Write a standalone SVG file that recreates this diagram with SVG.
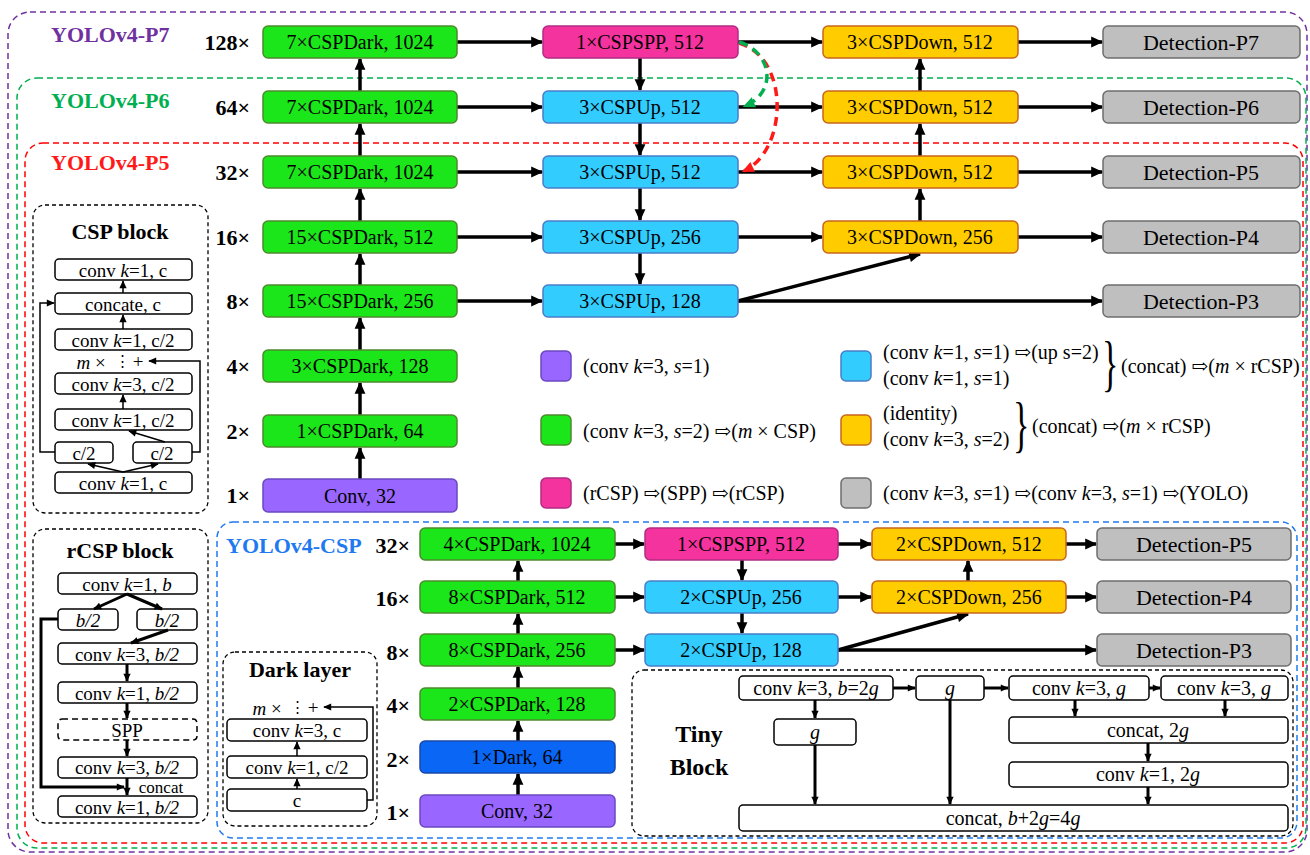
<svg xmlns="http://www.w3.org/2000/svg" width="1310" height="855" viewBox="0 0 1310 855" font-family="'Liberation Serif', 'Times New Roman', 'DejaVu Serif', serif">
<defs>
<marker id="ah" viewBox="0 0 10 10" refX="9" refY="5" markerWidth="13" markerHeight="12" markerUnits="userSpaceOnUse" orient="auto"><path d="M0,0.5L10,5L0,9.5z" fill="#000"/></marker>
<marker id="as" viewBox="0 0 10 10" refX="9" refY="5" markerWidth="9" markerHeight="8" markerUnits="userSpaceOnUse" orient="auto"><path d="M0,0.5L10,5L0,9.5z" fill="#000"/></marker>
<marker id="ag" viewBox="0 0 10 10" refX="8" refY="5" markerWidth="13" markerHeight="12" markerUnits="userSpaceOnUse" orient="auto"><path d="M0,0.5L10,5L0,9.5z" fill="#00B050"/></marker>
<marker id="ar" viewBox="0 0 10 10" refX="8" refY="5" markerWidth="13" markerHeight="12" markerUnits="userSpaceOnUse" orient="auto"><path d="M0,0.5L10,5L0,9.5z" fill="#FF1A1A"/></marker>
</defs>
<style>
text{font-family:'Liberation Serif','Times New Roman','DejaVu Serif',serif;fill:#000}
.c{text-anchor:middle;dominant-baseline:central}
.r{text-anchor:end;dominant-baseline:central}
.l{dominant-baseline:central}
.i{font-style:italic}
.bx{font-size:20px}
.det{font-size:22px}
.sc{font-size:22px;font-weight:bold}
.ttl{font-size:22px;font-weight:bold}
.tb{font-size:24px;font-weight:bold}
.sm{font-size:19px}
.dots{font-size:15px}
.lg{font-size:20px}
.br{font-size:62px}
.node rect{stroke-width:1.5}
.gr rect{fill:#1AE61A;stroke:#4E8A2E}
.pu rect{fill:#9966FF;stroke:#6A48C0}
.pk rect{fill:#F5339F;stroke:#B02C82}
.bl rect{fill:#33CCFF;stroke:#4A7EC8}
.db rect{fill:#0A66F5;stroke:#1A48A8}
.or rect{fill:#FFCC00;stroke:#C8661E}
.gy rect{fill:#BFBFBF;stroke:#6E6E6E}
.wb rect{fill:#fff;stroke:#000;stroke-width:1.5}
.frame{fill:none;stroke:#000;stroke-width:1.3;stroke-dasharray:4,3}
.ln{stroke:#000;stroke-width:3.5;fill:none}
.lt{stroke:#000;stroke-width:3;fill:none}
.ls{stroke:#000;stroke-width:1.5;fill:none}
</style>
<rect width="1310" height="855" fill="#fff"/>

<g id="frames">
<rect x="8" y="12" width="1299" height="840" rx="22" fill="none" stroke="#7030A0" stroke-width="1.5" stroke-dasharray="6,4"/>
<rect x="17" y="78" width="1289" height="770" rx="20" fill="none" stroke="#00B050" stroke-width="1.5" stroke-dasharray="6,4"/>
<rect x="25" y="143" width="1278" height="700" rx="18" fill="none" stroke="#FF0000" stroke-width="1.5" stroke-dasharray="6,4"/>
<rect x="217" y="522" width="1080" height="316" rx="16" fill="none" stroke="#1F7AF0" stroke-width="1.5" stroke-dasharray="6,4"/>
<text x="51" y="34" class="l ttl" style="fill:#7030A0">YOLOv4-P7</text>
<text x="51" y="100" class="l ttl" style="fill:#00B050">YOLOv4-P6</text>
<text x="51" y="162" class="l ttl" style="fill:#FF1A1A">YOLOv4-P5</text>
<text x="226" y="545" class="l ttl" style="fill:#1F7AF0">YOLOv4-CSP</text>
</g>

<g id="scales">
<text x="250" y="42" class="r sc">128×</text>
<text x="250" y="107" class="r sc">64×</text>
<text x="250" y="172" class="r sc">32×</text>
<text x="250" y="237" class="r sc">16×</text>
<text x="250" y="301" class="r sc">8×</text>
<text x="250" y="366" class="r sc">4×</text>
<text x="250" y="431" class="r sc">2×</text>
<text x="250" y="495" class="r sc">1×</text>
<text x="410" y="545" class="r sc">32×</text>
<text x="410" y="598" class="r sc">16×</text>
<text x="410" y="652" class="r sc">8×</text>
<text x="410" y="705" class="r sc">4×</text>
<text x="410" y="759" class="r sc">2×</text>
<text x="410" y="812" class="r sc">1×</text>
</g>

<g id="connectors">
<line class="ln" x1="360" y1="479" x2="360" y2="448" marker-end="url(#ah)"/>
<line class="ln" x1="360" y1="415" x2="360" y2="383" marker-end="url(#ah)"/>
<line class="ln" x1="360" y1="350" x2="360" y2="318" marker-end="url(#ah)"/>
<line class="ln" x1="360" y1="285" x2="360" y2="254" marker-end="url(#ah)"/>
<line class="ln" x1="360" y1="221" x2="360" y2="189" marker-end="url(#ah)"/>
<line class="ln" x1="360" y1="156" x2="360" y2="124" marker-end="url(#ah)"/>
<line class="ln" x1="360" y1="91" x2="360" y2="59" marker-end="url(#ah)"/>
<line class="ln" x1="457" y1="42" x2="542" y2="42" marker-end="url(#ah)"/>
<line class="ln" x1="457" y1="107" x2="542" y2="107" marker-end="url(#ah)"/>
<line class="ln" x1="457" y1="172" x2="542" y2="172" marker-end="url(#ah)"/>
<line class="ln" x1="457" y1="237" x2="542" y2="237" marker-end="url(#ah)"/>
<line class="ln" x1="457" y1="301" x2="542" y2="301" marker-end="url(#ah)"/>
<line class="ln" x1="640" y1="58" x2="640" y2="90" marker-end="url(#ah)"/>
<line class="ln" x1="640" y1="123" x2="640" y2="155" marker-end="url(#ah)"/>
<line class="ln" x1="640" y1="188" x2="640" y2="220" marker-end="url(#ah)"/>
<line class="ln" x1="640" y1="253" x2="640" y2="284" marker-end="url(#ah)"/>
<line class="ln" x1="738" y1="42" x2="822" y2="42" marker-end="url(#ah)"/>
<line class="ln" x1="738" y1="107" x2="822" y2="107" marker-end="url(#ah)"/>
<line class="ln" x1="738" y1="172" x2="822" y2="172" marker-end="url(#ah)"/>
<line class="ln" x1="738" y1="237" x2="822" y2="237" marker-end="url(#ah)"/>
<line class="ln" x1="738" y1="301" x2="1102" y2="301" marker-end="url(#ah)"/>
<line class="ln" x1="738" y1="301" x2="920" y2="254" marker-end="url(#ah)"/>
<line class="ln" x1="920" y1="221" x2="920" y2="189" marker-end="url(#ah)"/>
<line class="ln" x1="920" y1="156" x2="920" y2="124" marker-end="url(#ah)"/>
<line class="ln" x1="920" y1="91" x2="920" y2="59" marker-end="url(#ah)"/>
<line class="ln" x1="1018" y1="42" x2="1102" y2="42" marker-end="url(#ah)"/>
<line class="ln" x1="1018" y1="107" x2="1102" y2="107" marker-end="url(#ah)"/>
<line class="ln" x1="1018" y1="172" x2="1102" y2="172" marker-end="url(#ah)"/>
<line class="ln" x1="1018" y1="237" x2="1102" y2="237" marker-end="url(#ah)"/>
<path d="M739,43 C790,58 788,150 744,171" fill="none" stroke="#FF1A1A" stroke-width="3.5" stroke-dasharray="9,6" marker-end="url(#ar)"/>
<path d="M739,42 C772,52 778,92 745,106" fill="none" stroke="#00B050" stroke-width="3.5" stroke-dasharray="9,6" marker-end="url(#ag)"/>

<line class="ln" x1="518" y1="795" x2="518" y2="774" marker-end="url(#ah)"/>
<line class="ln" x1="518" y1="741" x2="518" y2="721" marker-end="url(#ah)"/>
<line class="ln" x1="518" y1="688" x2="518" y2="667" marker-end="url(#ah)"/>
<line class="ln" x1="518" y1="634" x2="518" y2="614" marker-end="url(#ah)"/>
<line class="ln" x1="518" y1="581" x2="518" y2="561" marker-end="url(#ah)"/>
<line class="ln" x1="615" y1="544" x2="644" y2="544" marker-end="url(#ah)"/>
<line class="ln" x1="615" y1="597" x2="644" y2="597" marker-end="url(#ah)"/>
<line class="ln" x1="615" y1="650" x2="644" y2="650" marker-end="url(#ah)"/>
<line class="ln" x1="742" y1="560" x2="742" y2="580" marker-end="url(#ah)"/>
<line class="ln" x1="742" y1="613" x2="742" y2="633" marker-end="url(#ah)"/>
<line class="ln" x1="838" y1="544" x2="871" y2="544" marker-end="url(#ah)"/>
<line class="ln" x1="838" y1="597" x2="871" y2="597" marker-end="url(#ah)"/>
<line class="ln" x1="838" y1="650" x2="1096" y2="650" marker-end="url(#ah)"/>
<line class="ln" x1="838" y1="650" x2="968" y2="614" marker-end="url(#ah)"/>
<line class="ln" x1="968" y1="581" x2="968" y2="561" marker-end="url(#ah)"/>
<line class="ln" x1="1066" y1="544" x2="1096" y2="544" marker-end="url(#ah)"/>
<line class="ln" x1="1066" y1="597" x2="1096" y2="597" marker-end="url(#ah)"/>
</g>

<g id="b128" class="node gr"><rect x="263" y="26" width="194" height="32" rx="5"/><text x="360" y="42" class="c bx">7×CSPDark, 1024</text></g>
<g id="b64" class="node gr"><rect x="263" y="91" width="194" height="32" rx="5"/><text x="360" y="107" class="c bx">7×CSPDark, 1024</text></g>
<g id="b32" class="node gr"><rect x="263" y="156" width="194" height="32" rx="5"/><text x="360" y="172" class="c bx">7×CSPDark, 1024</text></g>
<g id="b16" class="node gr"><rect x="263" y="221" width="194" height="32" rx="5"/><text x="360" y="237" class="c bx">15×CSPDark, 512</text></g>
<g id="b8" class="node gr"><rect x="263" y="285" width="194" height="32" rx="5"/><text x="360" y="301" class="c bx">15×CSPDark, 256</text></g>
<g id="b4" class="node gr"><rect x="263" y="350" width="194" height="32" rx="5"/><text x="360" y="366" class="c bx">3×CSPDark, 128</text></g>
<g id="b2" class="node gr"><rect x="263" y="415" width="194" height="32" rx="5"/><text x="360" y="431" class="c bx">1×CSPDark, 64</text></g>
<g id="b1" class="node pu"><rect x="263" y="479" width="194" height="33" rx="5"/><text x="360" y="496" class="c bx">Conv, 32</text></g>

<g id="n128" class="node pk"><rect x="543" y="26" width="195" height="32" rx="5"/><text x="640" y="42" class="c bx">1×CSPSPP, 512</text></g>
<g id="n64" class="node bl"><rect x="543" y="91" width="195" height="32" rx="5"/><text x="640" y="107" class="c bx">3×CSPUp, 512</text></g>
<g id="n32" class="node bl"><rect x="543" y="156" width="195" height="32" rx="5"/><text x="640" y="172" class="c bx">3×CSPUp, 512</text></g>
<g id="n16" class="node bl"><rect x="543" y="221" width="195" height="32" rx="5"/><text x="640" y="237" class="c bx">3×CSPUp, 256</text></g>
<g id="n8" class="node bl"><rect x="543" y="285" width="195" height="32" rx="5"/><text x="640" y="301" class="c bx">3×CSPUp, 128</text></g>

<g id="d128" class="node or"><rect x="823" y="26" width="195" height="32" rx="5"/><text x="920" y="42" class="c bx">3×CSPDown, 512</text></g>
<g id="d64" class="node or"><rect x="823" y="91" width="195" height="32" rx="5"/><text x="920" y="107" class="c bx">3×CSPDown, 512</text></g>
<g id="d32" class="node or"><rect x="823" y="156" width="195" height="32" rx="5"/><text x="920" y="172" class="c bx">3×CSPDown, 512</text></g>
<g id="d16" class="node or"><rect x="823" y="221" width="195" height="32" rx="5"/><text x="920" y="237" class="c bx">3×CSPDown, 256</text></g>

<g id="p7" class="node gy"><rect x="1103" y="26" width="197" height="32" rx="5"/><text x="1201" y="42" class="c det">Detection-P7</text></g>
<g id="p6" class="node gy"><rect x="1103" y="91" width="197" height="32" rx="5"/><text x="1201" y="107" class="c det">Detection-P6</text></g>
<g id="p5" class="node gy"><rect x="1103" y="156" width="197" height="32" rx="5"/><text x="1201" y="172" class="c det">Detection-P5</text></g>
<g id="p4" class="node gy"><rect x="1103" y="221" width="197" height="32" rx="5"/><text x="1201" y="237" class="c det">Detection-P4</text></g>
<g id="p3" class="node gy"><rect x="1103" y="285" width="197" height="32" rx="5"/><text x="1201" y="301" class="c det">Detection-P3</text></g>

<g id="legend">
<g class="node pu"><rect x="541" y="351" width="30" height="30" rx="5"/></g>
<g class="node gr"><rect x="541" y="415" width="30" height="30" rx="5"/></g>
<g class="node pk"><rect x="541" y="478" width="30" height="30" rx="5"/></g>
<g class="node bl"><rect x="841" y="351" width="30" height="30" rx="5"/></g>
<g class="node or"><rect x="841" y="415" width="30" height="30" rx="5"/></g>
<g class="node gy"><rect x="841" y="478" width="30" height="30" rx="5"/></g>
<text x="583" y="366" class="l lg">(conv <tspan class="i">k</tspan>=3, <tspan class="i">s</tspan>=1)</text>
<text x="583" y="431" class="l lg">(conv <tspan class="i">k</tspan>=3, <tspan class="i">s</tspan>=2) ⇨(<tspan class="i">m</tspan> × CSP)</text>
<text x="583" y="493" class="l lg">(rCSP) ⇨(SPP) ⇨(rCSP)</text>
<text x="883" y="352" class="l lg">(conv <tspan class="i">k</tspan>=1, <tspan class="i">s</tspan>=1) ⇨(up s=2)</text>
<text x="883" y="378" class="l lg">(conv <tspan class="i">k</tspan>=1, <tspan class="i">s</tspan>=1)</text>
<text class="l br" transform="translate(1102,363) scale(0.55,1)">}</text>
<text x="1121" y="366" class="l lg">(concat) ⇨(<tspan class="i">m</tspan> × rCSP)</text>
<text x="883" y="413" class="l lg">(identity)</text>
<text x="883" y="439" class="l lg">(conv <tspan class="i">k</tspan>=3, <tspan class="i">s</tspan>=2)</text>
<text class="l br" transform="translate(1013,424) scale(0.55,1)">}</text>
<text x="1032" y="426" class="l lg">(concat) ⇨(<tspan class="i">m</tspan> × rCSP)</text>
<text x="883" y="493" class="l lg">(conv <tspan class="i">k</tspan>=3, <tspan class="i">s</tspan>=1) ⇨(conv <tspan class="i">k</tspan>=3, <tspan class="i">s</tspan>=1) ⇨(YOLO)</text>
</g>

<g id="c32" class="node gr"><rect x="420" y="528" width="195" height="32" rx="5"/><text x="517" y="544" class="c bx">4×CSPDark, 1024</text></g>
<g id="c16" class="node gr"><rect x="420" y="581" width="195" height="32" rx="5"/><text x="517" y="597" class="c bx">8×CSPDark, 512</text></g>
<g id="c8" class="node gr"><rect x="420" y="634" width="195" height="32" rx="5"/><text x="517" y="650" class="c bx">8×CSPDark, 256</text></g>
<g id="c4" class="node gr"><rect x="420" y="688" width="195" height="32" rx="5"/><text x="517" y="704" class="c bx">2×CSPDark, 128</text></g>
<g id="c2" class="node db"><rect x="420" y="741" width="195" height="32" rx="5"/><text x="517" y="757" class="c bx">1×Dark, 64</text></g>
<g id="c1" class="node pu"><rect x="420" y="795" width="195" height="32" rx="5"/><text x="517" y="811" class="c bx">Conv, 32</text></g>
<g id="cs32" class="node pk"><rect x="645" y="528" width="193" height="32" rx="5"/><text x="741" y="544" class="c bx">1×CSPSPP, 512</text></g>
<g id="cs16" class="node bl"><rect x="645" y="581" width="193" height="32" rx="5"/><text x="741" y="597" class="c bx">2×CSPUp, 256</text></g>
<g id="cs8" class="node bl"><rect x="645" y="634" width="193" height="32" rx="5"/><text x="741" y="650" class="c bx">2×CSPUp, 128</text></g>
<g id="cd32" class="node or"><rect x="872" y="528" width="194" height="32" rx="5"/><text x="969" y="544" class="c bx">2×CSPDown, 512</text></g>
<g id="cd16" class="node or"><rect x="872" y="581" width="194" height="32" rx="5"/><text x="969" y="597" class="c bx">2×CSPDown, 256</text></g>
<g id="cp5" class="node gy"><rect x="1097" y="528" width="194" height="32" rx="5"/><text x="1194" y="544" class="c det">Detection-P5</text></g>
<g id="cp4" class="node gy"><rect x="1097" y="581" width="194" height="32" rx="5"/><text x="1194" y="597" class="c det">Detection-P4</text></g>
<g id="cp3" class="node gy"><rect x="1097" y="634" width="194" height="32" rx="5"/><text x="1194" y="650" class="c det">Detection-P3</text></g>

<g id="cspblock">
<rect class="frame" x="33" y="205" width="175" height="308" rx="12"/>
<text x="120" y="231" class="c ttl">CSP block</text>
<g class="wb">
<rect x="55" y="259" width="137" height="21" rx="4"/>
<rect x="55" y="293" width="137" height="21" rx="4"/>
<rect x="55" y="329" width="137" height="21" rx="4"/>
<rect x="55" y="373" width="137" height="21" rx="4"/>
<rect x="55" y="409" width="137" height="21" rx="4"/>
<rect x="55" y="442" width="58" height="21" rx="4"/>
<rect x="133" y="442" width="59" height="21" rx="4"/>
<rect x="55" y="472" width="137" height="21" rx="4"/>
</g>
<text x="123" y="270" class="c sm">conv <tspan class="i">k</tspan>=1, c</text>
<text x="123" y="304" class="c sm">concate, c</text>
<text x="123" y="340" class="c sm">conv <tspan class="i">k</tspan>=1, c/2</text>
<text x="91" y="362" class="c sm"><tspan class="i">m</tspan> ×</text>
<text x="122" y="361" class="c dots">⋮</text>
<text x="138" y="361" class="c sm">+</text>
<text x="123" y="384" class="c sm">conv <tspan class="i">k</tspan>=3, c/2</text>
<text x="123" y="420" class="c sm">conv <tspan class="i">k</tspan>=1, c/2</text>
<text x="84" y="453" class="c sm">c/2</text>
<text x="162" y="453" class="c sm">c/2</text>
<text x="123" y="483" class="c sm">conv <tspan class="i">k</tspan>=1, c</text>
<line class="ls" x1="123" y1="293" x2="123" y2="281" marker-end="url(#as)"/>
<line class="ls" x1="123" y1="329" x2="123" y2="315" marker-end="url(#as)"/>
<line class="ls" x1="123" y1="409" x2="123" y2="395" marker-end="url(#as)"/>
<line class="ls" x1="165" y1="442" x2="129" y2="431" marker-end="url(#as)"/>
<line class="ls" x1="123" y1="472" x2="88" y2="464" marker-end="url(#as)"/>
<line class="ls" x1="123" y1="472" x2="158" y2="464" marker-end="url(#as)"/>
<polyline class="ls" points="55,452 40,452 40,303 54,303" marker-end="url(#as)"/>
<polyline class="ls" points="192,452 200,452 200,361 149,361" marker-end="url(#as)"/>
</g>

<g id="rcspblock">
<rect class="frame" x="33" y="529" width="175" height="294" rx="12"/>
<text x="120" y="550" class="c ttl">rCSP block</text>
<g class="wb">
<rect x="58" y="573" width="139" height="21" rx="4"/>
<rect x="58" y="609" width="60" height="21" rx="4"/>
<rect x="137" y="609" width="60" height="21" rx="4"/>
<rect x="58" y="643" width="139" height="21" rx="4"/>
<rect x="58" y="682" width="139" height="21" rx="4"/>
<rect x="58" y="719" width="139" height="21" rx="4" style="stroke-dasharray:6,4"/>
<rect x="58" y="757" width="139" height="21" rx="4"/>
<rect x="58" y="796" width="139" height="21" rx="4"/>
</g>
<text x="127" y="584" class="c sm">conv <tspan class="i">k</tspan>=1, <tspan class="i">b</tspan></text>
<text x="88" y="620" class="c sm i">b/2</text>
<text x="167" y="620" class="c sm i">b/2</text>
<text x="127" y="654" class="c sm">conv <tspan class="i">k</tspan>=3, <tspan class="i">b/2</tspan></text>
<text x="127" y="693" class="c sm">conv <tspan class="i">k</tspan>=1, <tspan class="i">b/2</tspan></text>
<text x="127" y="730" class="c sm">SPP</text>
<text x="127" y="767" class="c sm">conv <tspan class="i">k</tspan>=3, <tspan class="i">b/2</tspan></text>
<text x="161" y="787.5" class="c" style="font-size:17px">concat</text>
<text x="127" y="807" class="c sm">conv <tspan class="i">k</tspan>=1, <tspan class="i">b/2</tspan></text>
<line class="lt" x1="127" y1="594" x2="94" y2="609" marker-end="url(#as)"/>
<line class="lt" x1="127" y1="594" x2="162" y2="609" marker-end="url(#as)"/>
<line class="lt" x1="168" y1="630" x2="131" y2="643" marker-end="url(#as)"/>
<line class="lt" x1="127" y1="664" x2="127" y2="681" marker-end="url(#as)"/>
<line class="lt" x1="127" y1="703" x2="127" y2="718" marker-end="url(#as)"/>
<line class="lt" x1="127" y1="740" x2="127" y2="756" marker-end="url(#as)"/>
<line class="lt" x1="127" y1="778" x2="127" y2="795" marker-end="url(#as)"/>
<polyline class="lt" points="58,619 41,619 41,787 124,787" marker-end="url(#as)"/>
</g>

<g id="darklayer">
<rect class="frame" x="223" y="652" width="154" height="174" rx="12"/>
<text x="300" y="669" class="c ttl">Dark layer</text>
<g class="wb">
<rect x="227" y="719" width="140" height="22" rx="4"/>
<rect x="227" y="756" width="140" height="22" rx="4"/>
<rect x="227" y="789" width="140" height="22" rx="4"/>
</g>
<text x="267" y="708" class="c sm"><tspan class="i">m</tspan> ×</text>
<text x="297" y="707" class="c dots">⋮</text>
<text x="313" y="707" class="c sm">+</text>
<text x="297" y="730" class="c sm">conv <tspan class="i">k</tspan>=3, c</text>
<text x="297" y="767" class="c sm">conv <tspan class="i">k</tspan>=1, c/2</text>
<text x="297" y="800" class="c sm">c</text>
<line class="ls" x1="297" y1="756" x2="297" y2="742" marker-end="url(#as)"/>
<line class="ls" x1="297" y1="789" x2="297" y2="779" marker-end="url(#as)"/>
<polyline class="ls" points="367,800 373,800 373,707 324,707" marker-end="url(#as)"/>
</g>

<g id="tinyblock">
<rect class="frame" x="632" y="670" width="661" height="166" rx="12"/>
<text x="699" y="734" class="c tb">Tiny</text>
<text x="699" y="767" class="c tb">Block</text>
<g class="wb">
<rect x="739" y="676" width="154" height="24" rx="4"/>
<rect x="916" y="676" width="68" height="24" rx="4"/>
<rect x="1009" y="676" width="140" height="24" rx="4"/>
<rect x="1161" y="676" width="127" height="24" rx="4"/>
<rect x="774" y="719" width="82" height="26" rx="4"/>
<rect x="1009" y="717" width="279" height="26" rx="4"/>
<rect x="1009" y="762" width="279" height="25" rx="4"/>
<rect x="739" y="805" width="549" height="26" rx="4"/>
</g>
<text x="816" y="688" class="c lg">conv <tspan class="i">k</tspan>=3, <tspan class="i">b</tspan>=2<tspan class="i">g</tspan></text>
<text x="950" y="688" class="c lg i">g</text>
<text x="1079" y="688" class="c lg">conv <tspan class="i">k</tspan>=3, <tspan class="i">g</tspan></text>
<text x="1224" y="688" class="c lg">conv <tspan class="i">k</tspan>=3, <tspan class="i">g</tspan></text>
<text x="815" y="732" class="c lg i">g</text>
<text x="1148" y="730" class="c lg">concat, 2<tspan class="i">g</tspan></text>
<text x="1148" y="774" class="c lg">conv <tspan class="i">k</tspan>=1, 2<tspan class="i">g</tspan></text>
<text x="1013" y="818" class="c lg">concat, <tspan class="i">b</tspan>+2<tspan class="i">g</tspan>=4<tspan class="i">g</tspan></text>
<line class="lt" x1="893" y1="688" x2="915" y2="688" marker-end="url(#as)"/>
<line class="lt" x1="984" y1="688" x2="1008" y2="688" marker-end="url(#as)"/>
<line class="lt" x1="1149" y1="688" x2="1160" y2="688" marker-end="url(#as)"/>
<line class="lt" x1="815" y1="700" x2="815" y2="718" marker-end="url(#as)"/>
<line class="lt" x1="815" y1="745" x2="815" y2="804" marker-end="url(#as)"/>
<line class="lt" x1="950" y1="700" x2="950" y2="804" marker-end="url(#as)"/>
<line class="lt" x1="1075" y1="700" x2="1075" y2="716" marker-end="url(#as)"/>
<line class="lt" x1="1225" y1="700" x2="1225" y2="716" marker-end="url(#as)"/>
<line class="lt" x1="1148" y1="743" x2="1148" y2="761" marker-end="url(#as)"/>
<line class="lt" x1="1148" y1="787" x2="1148" y2="804" marker-end="url(#as)"/>
</g>
</svg>
